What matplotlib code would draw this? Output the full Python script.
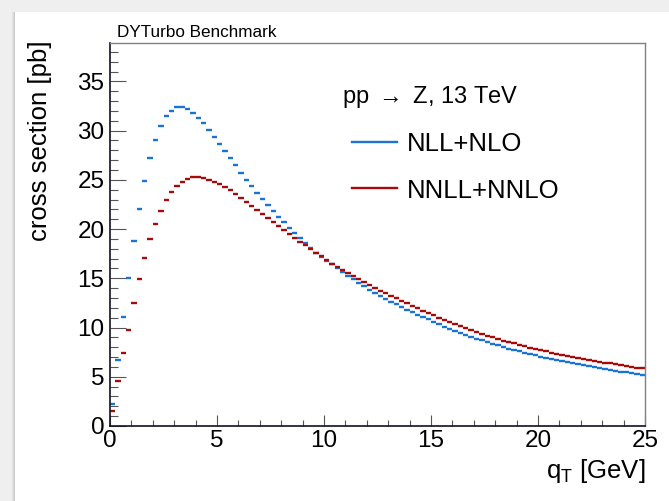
import numpy as np
import matplotlib
matplotlib.use("Agg")
import matplotlib.pyplot as plt
from matplotlib.ticker import MultipleLocator
from matplotlib.lines import Line2D
from matplotlib.patches import Rectangle

plt.rcParams['font.family'] = ['Liberation Sans', 'DejaVu Sans']
plt.rcParams['mathtext.fontset'] = 'custom'
plt.rcParams['mathtext.rm'] = 'Liberation Sans'
plt.rcParams['mathtext.it'] = 'Liberation Sans'

# q_T bins, 0.25 GeV wide from 0 to 25
bin_width = 0.25
qt_low = np.arange(100) * bin_width

nll_nlo = [
    2.24, 6.73, 11.1, 15.07, 18.78, 22.05, 24.87, 27.2, 29.05, 30.48,
    31.46, 32.04, 32.35, 32.38, 32.18, 31.8, 31.33, 30.75, 30.1, 29.39,
    28.67, 27.93, 27.2, 26.46, 25.74, 25.03, 24.35, 23.67, 23.03, 22.41,
    21.8, 21.22, 20.68, 20.14, 19.59, 19.08, 18.57, 18.06, 17.58, 17.2,
    16.8, 16.43, 16.02, 15.64, 15.24, 14.9, 14.52, 14.18, 13.84, 13.54,
    13.23, 12.93, 12.62, 12.35, 12.07, 11.8, 11.55, 11.30, 11.06, 10.82,
    10.57, 10.33, 10.10, 9.87, 9.65, 9.45, 9.25, 9.05, 8.87, 8.69,
    8.51, 8.34, 8.18, 8.02, 7.87, 7.72, 7.58, 7.44, 7.30, 7.17,
    7.04, 6.92, 6.80, 6.68, 6.57, 6.46, 6.35, 6.25, 6.15, 6.05,
    5.96, 5.87, 5.78, 5.69, 5.60, 5.52, 5.44, 5.36, 5.28, 5.20,
]

nnll_nnlo = [
    1.5, 4.52, 7.42, 9.8, 12.45, 14.9, 17.04, 18.95, 20.54, 21.84,
    22.93, 23.74, 24.39, 24.83, 25.1, 25.24, 25.27, 25.17, 25.03, 24.83,
    24.59, 24.32, 23.98, 23.6, 23.2, 22.79, 22.38, 21.97, 21.54, 21.12,
    20.71, 20.34, 19.9, 19.52, 19.1, 18.72, 18.35, 17.96, 17.6, 17.22,
    16.84, 16.5, 16.16, 15.82, 15.51, 15.2, 14.9, 14.59, 14.29, 14.01,
    13.74, 13.47, 13.2, 12.96, 12.72, 12.45, 12.2, 11.95, 11.71, 11.48,
    11.23, 10.99, 10.76, 10.53, 10.31, 10.11, 9.91, 9.71, 9.53, 9.35,
    9.17, 9.00, 8.84, 8.68, 8.53, 8.38, 8.24, 8.10, 7.96, 7.83,
    7.70, 7.58, 7.46, 7.34, 7.23, 7.12, 7.01, 6.91, 6.81, 6.71,
    6.62, 6.53, 6.44, 6.35, 6.26, 6.18, 6.10, 6.02, 5.94, 5.86,
]

blue = '#1a74d6'
red = '#a80a0a'

W, H = 669, 501
fig = plt.figure(figsize=(W / 100, H / 100), dpi=100)
fig.patch.set_facecolor('#efefef')

# window-like white canvas with a soft shadow on the left
for i, c in enumerate(['#e4e4e4', '#d8d8d8', '#cdcdcd']):
    fig.add_artist(Rectangle(((12 + i) / W, 0), 1 / W, (H - 12) / H,
                             transform=fig.transFigure, color=c, lw=0,
                             zorder=-10))
fig.add_artist(Rectangle((15 / W, 0), 1, (H - 12) / H,
                         transform=fig.transFigure, color='white', lw=0,
                         zorder=-10))

ax = fig.add_axes([110 / W, 1 - 426 / H, (645 - 110) / W, (426 - 43) / H])
ax.patch.set_alpha(0)
ax.hlines(nll_nlo, qt_low, qt_low + bin_width, color=blue, lw=1.7)
ax.hlines(nnll_nnlo, qt_low, qt_low + bin_width, color=red, lw=1.7)

ax.set_xlim(0, 25)
ax.set_ylim(0, 38.9)
ax.xaxis.set_major_locator(MultipleLocator(5))
ax.xaxis.set_minor_locator(MultipleLocator(1))
ax.yaxis.set_major_locator(MultipleLocator(5))
ax.yaxis.set_minor_locator(MultipleLocator(1))
ax.tick_params(axis='both', which='both', direction='in', top=False, right=False,
               color='#555555', width=0.8, labelsize=17.5)
ax.tick_params(axis='y', which='major', length=11.5, pad=4)
ax.tick_params(axis='y', which='minor', length=5.8)
ax.tick_params(axis='x', which='major', length=8, pad=3)
ax.tick_params(axis='x', which='minor', length=4)

for s in ['left', 'bottom']:
    ax.spines[s].set_color('#111122')
    ax.spines[s].set_linewidth(1.2)
for s in ['top', 'right']:
    ax.spines[s].set_color('#808080')
    ax.spines[s].set_linewidth(1.0)

fig.text(117 / W, 1 - 37 / H, 'DYTurbo Benchmark', fontsize=12.3, va='baseline')
fig.text(40 / W, 1 - 40 / H, 'cross section [pb]', rotation=90,
         ha='center', va='top', fontsize=18.5)
fig.text(645 / W, 1 - 478 / H, r'q$_{\mathrm{T}}$ [GeV]', ha='right',
         va='baseline', fontsize=18.5)

# legend
fig.text(342 / W, 1 - 102.5 / H, r'pp $\rightarrow$ Z, 13 TeV', fontsize=17,
         va='baseline')
for yc, col, lab in [(141.7, blue, 'NLL+NLO'), (188.3, red, 'NNLL+NNLO')]:
    fig.add_artist(Line2D([352 / W, 397 / W], [1 - yc / H, 1 - yc / H],
                          color=col, lw=1.7, transform=fig.transFigure))
    fig.text(407 / W, 1 - yc / H, lab, fontsize=18.5, va='center_baseline')

plt.savefig('out.png', dpi=100, facecolor=fig.get_facecolor())
